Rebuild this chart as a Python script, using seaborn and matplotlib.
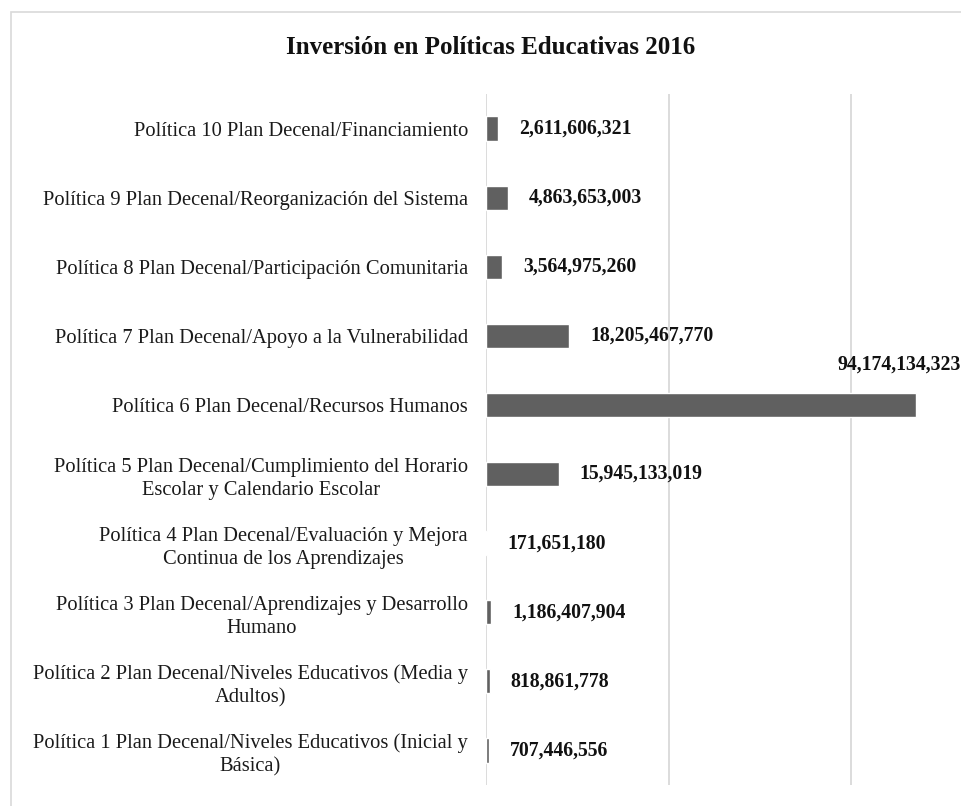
"""Inversión en Políticas Educativas 2016 - horizontal bar chart."""

import matplotlib
matplotlib.use("Agg")
import matplotlib.pyplot as plt
from matplotlib.patches import Rectangle
import pandas as pd
import seaborn as sns

# Data, top to bottom as shown in the chart
politicas = [
    "Política 10 Plan Decenal/Financiamiento",
    "Política 9 Plan Decenal/Reorganización del Sistema",
    "Política 8 Plan Decenal/Participación Comunitaria",
    "Política 7 Plan Decenal/Apoyo a la Vulnerabilidad",
    "Política 6 Plan Decenal/Recursos Humanos",
    "Política 5 Plan Decenal/Cumplimiento del Horario\nEscolar y Calendario Escolar",
    "Política 4 Plan Decenal/Evaluación y Mejora\nContinua de los Aprendizajes",
    "Política 3 Plan Decenal/Aprendizajes y Desarrollo\nHumano",
    "Política 2 Plan Decenal/Niveles Educativos (Media y\nAdultos)",
    "Política 1 Plan Decenal/Niveles Educativos (Inicial y\nBásica)",
]
montos = [
    2611606321,
    4863653003,
    3564975260,
    18205467770,
    94174134323,
    15945133019,
    171651180,
    1186407904,
    818861778,
    707446556,
]
grid_ticks = [0, 40e9, 80e9]

df = pd.DataFrame({"politica": politicas, "monto": montos})

sns.set_theme(style="white")
plt.rcParams["font.family"] = ["Liberation Serif", "DejaVu Serif"]

fig = plt.figure(figsize=(9.62, 8.06), dpi=100)
ax = fig.add_axes([486 / 962, 21 / 806, 476 / 962, 691 / 806])

sns.barplot(
    data=df, x="monto", y="politica", orient="h",
    color="#606060", saturation=1, width=0.35, errorbar=None, ax=ax,
)

ax.set_xlim(0, 104.25e9)
ax.set_ylim(len(politicas) - 0.5, -0.5)
ax.set_xticks(grid_ticks)
ax.set_xticklabels([])
ax.grid(axis="x", color="#d9d9d9", linewidth=1.3)
ax.grid(axis="y", visible=False)
ax.set_axisbelow(True)
for side in ax.spines.values():
    side.set_visible(False)
ax.set_xlabel("")
ax.set_ylabel("")
ax.tick_params(axis="y", length=0, pad=13, labelsize=14.8, labelcolor="#1a1a1a")
ax.tick_params(axis="x", length=0)
for lbl in ax.get_yticklabels():
    lbl.set_multialignment("center")
    lbl.set_linespacing(1.3)

# Data labels; the largest one sits above its bar
idx_max = montos.index(max(montos))
labels = ["" if i == idx_max else f"{v:,.0f}" for i, v in enumerate(montos)]
ax.bar_label(ax.containers[0], labels=labels, padding=15,
             fontsize=14.2, fontweight="bold", color="#111111")
ax.annotate(f"{montos[idx_max]:,.0f}", xy=(montos[idx_max], idx_max),
            xytext=(-12, 29), textcoords="offset points",
            ha="center", va="center", fontsize=14.2, fontweight="bold",
            color="#111111", annotation_clip=False)

fig.text(0.51, 1 - 47 / 806, "Inversión en Políticas Educativas 2016",
         ha="center", va="center", fontsize=18, fontweight="bold",
         color="#111111")

# Light chart border (runs off the right and bottom edges)
fig.patches.append(Rectangle((11 / 962, -0.05), 1.2, 1.05 - 12 / 806,
                             transform=fig.transFigure, fill=False,
                             edgecolor="#d9d9d9", linewidth=1.2))

fig.savefig("out.png", dpi=100, facecolor="white")
plt.close(fig)
